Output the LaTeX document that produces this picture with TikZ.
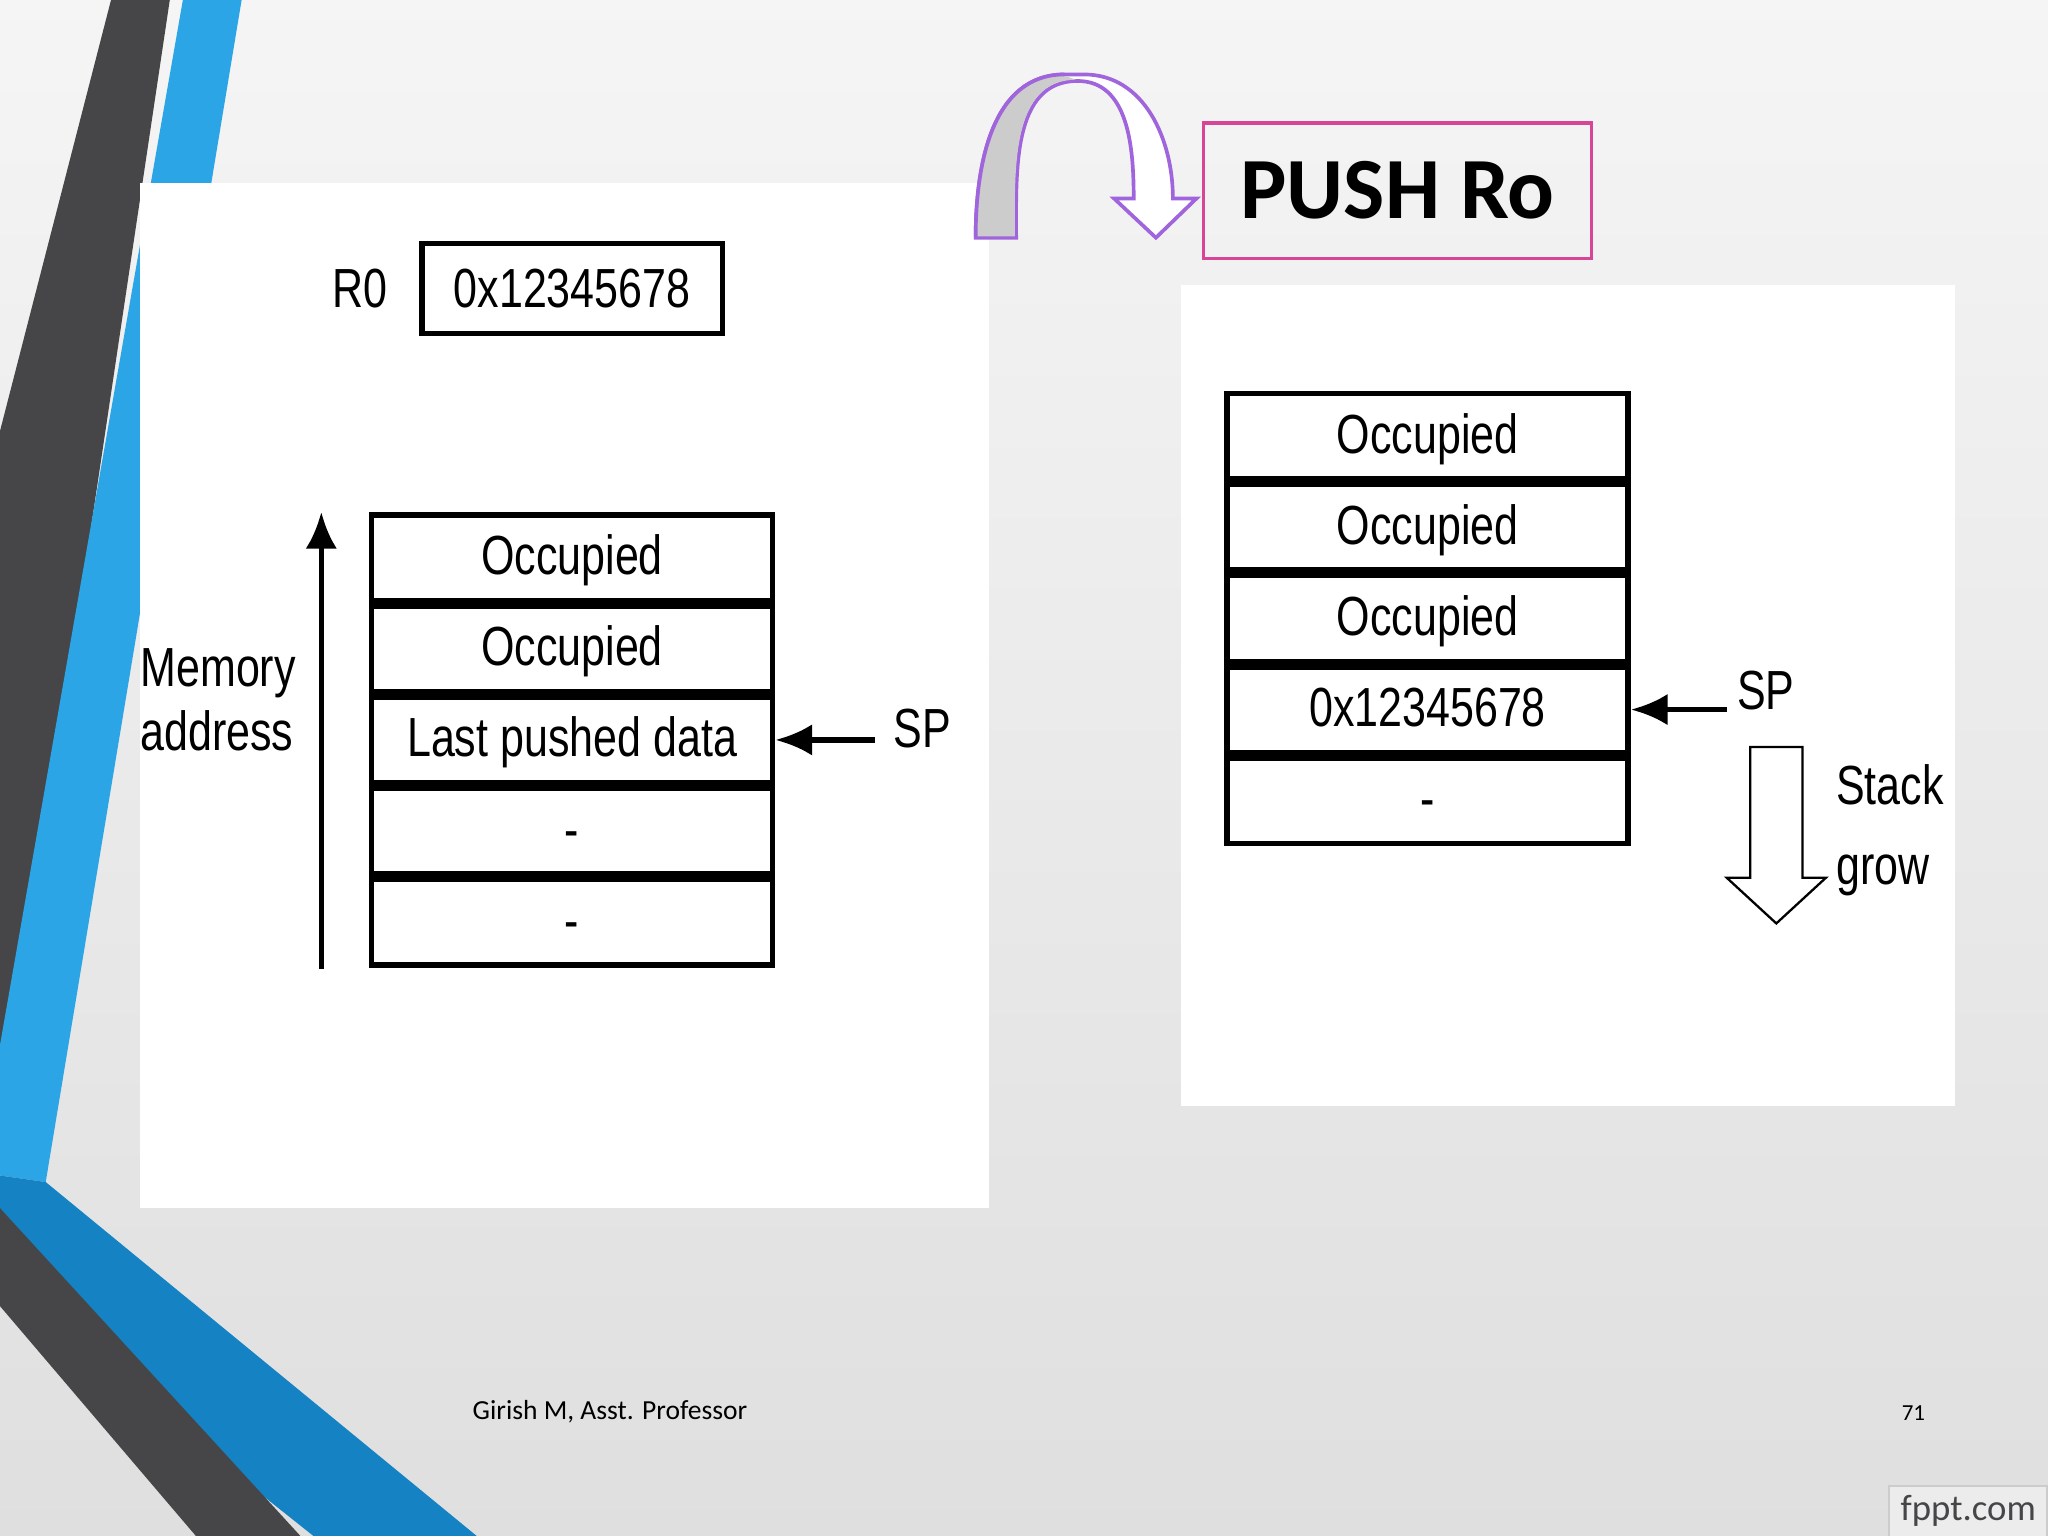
\documentclass[tikz,border=0pt]{standalone}
\usepackage{fontspec}
\setmainfont{Liberation Sans}
\newfontfamily\narrow[FakeStretch=0.78]{Liberation Sans}
\newfontfamily\calib{Carlito}
\usetikzlibrary{positioning, arrows.meta}
\definecolor{slideblue}{RGB}{44,165,230}
\definecolor{deepblue}{RGB}{20,130,195}
\definecolor{darkband}{RGB}{70,70,72}
\definecolor{pushpink}{RGB}{215,70,150}
\definecolor{arcpurple}{RGB}{160,100,220}
\begin{document}
\begin{tikzpicture}
  [x=0.01cm, y=-0.01cm,
   cell/.style = {draw=black, line width=1.2pt, minimum width=3.07cm,
     minimum height=0.655cm, inner sep=0pt, text height=1.4ex, text depth=0ex,
     font=\narrow\fontsize{12}{12}\selectfont},
   lbl/.style = {font=\narrow\fontsize{12}{14}\selectfont, align=left},
   ptr/.style = {-{Latex[length=0.28cm, width=0.24cm]}, line width=1.2pt}
  ]
  % background
  \shade[top color=gray!8, bottom color=gray!25] (0,0) rectangle (1568,1176);
  \useasboundingbox (0,0) rectangle (1568,1176);
  \fill[darkband] (85,0) -- (130,0) -- (12,790) -- (0,810) -- (0,330) -- cycle;
  \fill[slideblue] (140,0) -- (185,0) -- (35,905) -- (0,900) -- (0,800) -- cycle;
  \fill[deepblue] (0,900) -- (35,905) -- (365,1176) -- (240,1176) -- (0,985) -- cycle;
  \fill[darkband] (0,925) -- (230,1176) -- (150,1176) -- (0,1000) -- cycle;
  % white panels
  \fill[white] (107,140) rectangle (757,925);
  \fill[white] (904,218) rectangle (1497,847);

  % left picture
  \node[draw, line width=1.2pt, minimum width=2.3cm, minimum height=0.69cm,
        font=\narrow\fontsize{12}{12}\selectfont] (reg) at (438,221) {0x12345678};
  \node[lbl, left=0.12cm of reg] (regname) {R0};
  \node[cell] (l1) at (438,427) {Occupied};
  \node[cell, below=0pt of l1] (l2) {Occupied};
  \node[cell, below=0pt of l2] (l3) {Last pushed data};
  \node[cell, below=0pt of l3] (l4) {-};
  \node[cell, below=0pt of l4] (l5) {-};
  \coordinate (mlow) at (246,742);
  \coordinate (mhigh) at (246,392);
  \draw[ptr] (mlow) -- (mhigh);
  \node[lbl] (mem) at (167,536) {Memory\\address};
  \node[lbl] (lsp) at (706,558) {SP};
  \coordinate (lspend) at (670,0);
  \draw[ptr] (l3.east -| lspend) -- (l3.east);

  % right picture
  \node[cell] (r1) at (1093,334) {Occupied};
  \node[cell, below=0pt of r1] (r2) {Occupied};
  \node[cell, below=0pt of r2] (r3) {Occupied};
  \node[cell, below=0pt of r3] (r4) {0x12345678};
  \node[cell, below=0pt of r4] (r5) {-};
  \node[lbl] (rsp) at (1352,529) {SP};
  \coordinate (rspend) at (1322,0);
  \draw[ptr] (r4.east -| rspend) -- (r4.east);
  \draw[line width=0.5pt, fill=white] (1340,572) -- (1380,572) -- (1380,672) -- (1398,672)
     -- (1360,707) -- (1322,672) -- (1340,672) -- cycle;
  \node[lbl] (grow) at (1447,636) {Stack\\[0.12cm]grow};

  % push label and curved arrow
  \node[draw=pushpink, line width=0.8pt, minimum width=2.97cm, minimum height=1.04cm,
        font=\calib\bfseries\fontsize{19}{19}\selectfont] (push) at (1070,146) {PUSH Ro};
  \draw[arcpurple, line width=0.8pt, fill=white]
     (747,182) to[out=90,in=180] (815,57) -- (830,57) to[out=0,in=90] (898,152)
     -- (916,152) -- (885,182) -- (853,152) -- (868,152)
     to[out=90,in=0] (825,62) to[out=180,in=90] (778,182) -- cycle;
  \fill[gray!40] (748,181) to[out=90,in=180] (815,58) -- (824,61)
     to[out=180,in=90] (777,181) -- cycle;
  \draw[arcpurple, line width=0.8pt] (747,182) to[out=90,in=180] (815,57);

  % footer
  \node[font=\calib\fontsize{6}{6}\selectfont] (author) at (467,1081) {Girish M, Asst. Professor};
  \node[font=\calib\fontsize{5}{5}\selectfont] (page) at (1465,1082) {71};
  \node[fill=gray!15, draw=gray!40, minimum width=1.21cm, minimum height=0.39cm, inner sep=1pt,
        font=\calib\fontsize{8}{8}\selectfont, text=darkband] (logo) at (1507,1157) {fppt.com};
\end{tikzpicture}
\end{document}
